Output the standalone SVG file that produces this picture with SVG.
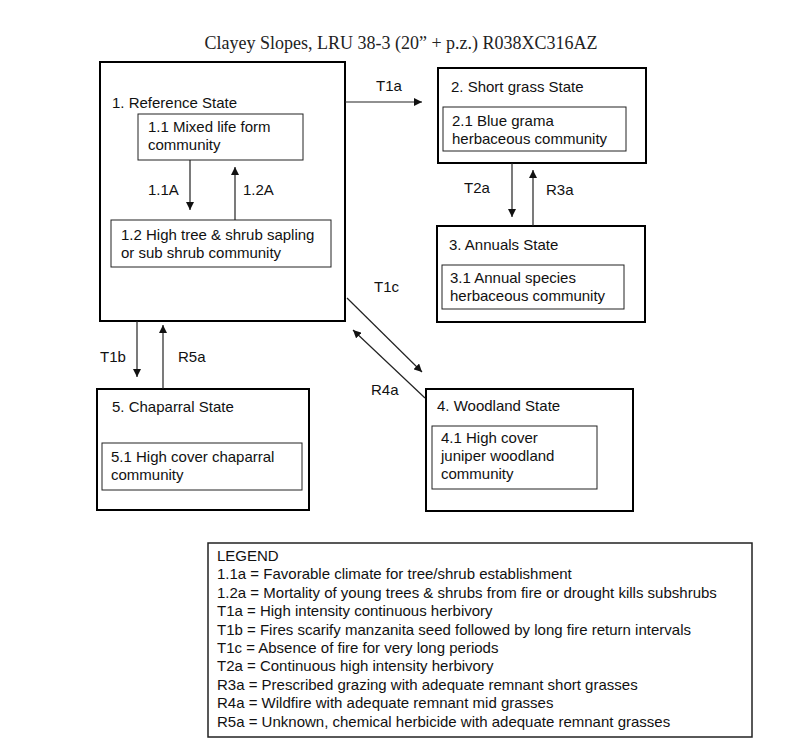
<svg xmlns="http://www.w3.org/2000/svg" width="800" height="750" viewBox="0 0 800 750">
<defs>
<style>
.t{font-family:"Liberation Sans",Arial,sans-serif;font-size:15px;fill:#111}
.ttl{font-family:"Liberation Serif","Times New Roman",serif;font-size:18px;fill:#222}
.st{fill:#fff;stroke:#000;stroke-width:2}
.cm{fill:#fff;stroke:#222;stroke-width:1}
.ar{stroke:#222;stroke-width:1.2;fill:none;marker-end:url(#ah)}
.lg{fill:#fff;stroke:#222;stroke-width:1.5}
</style>
<marker id="ah" viewBox="0 0 10 10" refX="10" refY="5" markerWidth="8" markerHeight="8" markerUnits="userSpaceOnUse" orient="auto">
<path d="M0,0 L10,5 L0,10 z" fill="#111"/>
</marker>
</defs>
<rect width="800" height="750" fill="#fff"/>
<text class="ttl" x="401" y="49" text-anchor="middle">Clayey Slopes, LRU 38-3 (20” + p.z.) R038XC316AZ</text>

<g id="state1">
<rect class="st" x="100" y="62" width="245" height="259"/>
<text class="t" x="112" y="108">1. Reference State</text>
</g>
<g id="comm11">
<rect class="cm" x="138" y="114" width="165" height="46"/>
<text class="t" x="148" y="132">1.1 Mixed life form</text>
<text class="t" x="148" y="150">community</text>
</g>
<g id="comm12">
<rect class="cm" x="111" y="220" width="220" height="47"/>
<text class="t" x="121" y="240">1.2 High tree &amp; shrub sapling</text>
<text class="t" x="121" y="258">or sub shrub community</text>
</g>
<g id="state2">
<rect class="st" x="438" y="68" width="208" height="95"/>
<text class="t" x="451" y="92">2. Short grass State</text>
<rect class="cm" x="443" y="107" width="183" height="44"/>
<text class="t" x="452" y="126">2.1 Blue grama</text>
<text class="t" x="452" y="144">herbaceous community</text>
</g>
<g id="state3">
<rect class="st" x="437" y="226" width="208" height="96"/>
<text class="t" x="449" y="250">3. Annuals State</text>
<rect class="cm" x="442" y="265" width="182" height="44"/>
<text class="t" x="450" y="283">3.1 Annual species</text>
<text class="t" x="450" y="301">herbaceous community</text>
</g>
<g id="state4">
<rect class="st" x="426" y="389" width="207" height="122"/>
<text class="t" x="437" y="411">4. Woodland State</text>
<rect class="cm" x="432" y="426" width="165" height="63"/>
<text class="t" x="441" y="443">4.1 High cover</text>
<text class="t" x="441" y="461">juniper woodland</text>
<text class="t" x="441" y="479">community</text>
</g>
<g id="state5">
<rect class="st" x="97" y="389" width="212" height="121"/>
<text class="t" x="112" y="412">5. Chaparral State</text>
<rect class="cm" x="102" y="443" width="200" height="47"/>
<text class="t" x="111" y="462">5.1 High cover chaparral</text>
<text class="t" x="111" y="480">community</text>
</g>

<g id="connectors">
<line class="ar" x1="190" y1="160" x2="190" y2="210"/>
<line class="ar" x1="235" y1="220" x2="235" y2="167"/>
<line class="ar" x1="345" y1="102" x2="422" y2="102"/>
<line class="ar" x1="512" y1="163" x2="512" y2="217"/>
<line class="ar" x1="533" y1="226" x2="533" y2="170"/>
<line class="ar" x1="347" y1="298" x2="422" y2="372"/>
<line class="ar" x1="425" y1="398" x2="353" y2="330"/>
<line class="ar" x1="137" y1="321" x2="137" y2="377"/>
<line class="ar" x1="163" y1="389" x2="163" y2="325"/>
<text class="t" x="148" y="195">1.1A</text>
<text class="t" x="243" y="195">1.2A</text>
<text class="t" x="376" y="91">T1a</text>
<text class="t" x="464" y="193">T2a</text>
<text class="t" x="546" y="195">R3a</text>
<text class="t" x="374" y="292">T1c</text>
<text class="t" x="371" y="395">R4a</text>
<text class="t" x="100" y="362">T1b</text>
<text class="t" x="178" y="362">R5a</text>
</g>

<g id="legend">
<rect class="lg" x="208" y="543" width="544" height="194"/>
<text class="t" x="217" y="561">LEGEND</text>
<text class="t" x="217" y="579.4">1.1a = Favorable climate for tree/shrub establishment</text>
<text class="t" x="217" y="597.8">1.2a = Mortality of young trees &amp; shrubs from fire or drought kills subshrubs</text>
<text class="t" x="217" y="616.2">T1a = High intensity continuous herbivory</text>
<text class="t" x="217" y="634.6">T1b = Fires scarify manzanita seed followed by long fire return intervals</text>
<text class="t" x="217" y="653">T1c = Absence of fire for very long periods</text>
<text class="t" x="217" y="671.4">T2a = Continuous high intensity herbivory</text>
<text class="t" x="217" y="689.8">R3a = Prescribed grazing with adequate remnant short grasses</text>
<text class="t" x="217" y="708.2">R4a = Wildfire with adequate remnant mid grasses</text>
<text class="t" x="217" y="726.6">R5a = Unknown, chemical herbicide with adequate remnant grasses</text>
</g>
</svg>
